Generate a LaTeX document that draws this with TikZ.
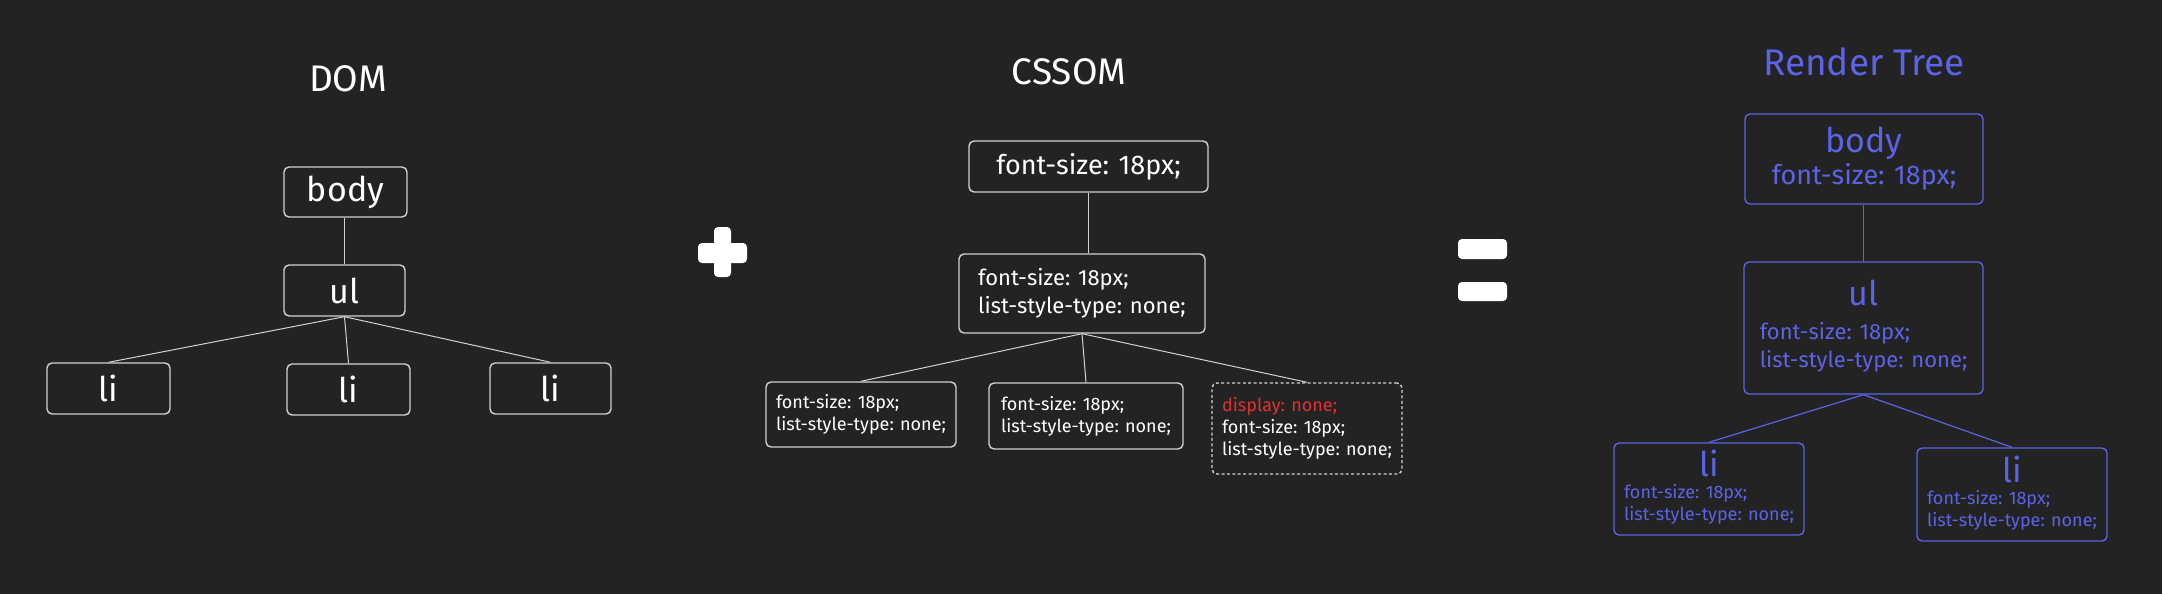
\documentclass[tikz,border=0pt]{standalone}
\usepackage{fontspec}
\setmainfont{Fira Sans}
\usetikzlibrary{positioning}
\definecolor{canvas}{HTML}{232323}
\definecolor{boxline}{HTML}{D2D2D2}
\definecolor{renderblue}{HTML}{5C63E6}
\definecolor{hidered}{HTML}{E03131}
\tikzset{
  treebox/.style={
    draw = boxline,
    line width = 0.7pt,
    rounded corners = 2.5pt,
    text = white,
    inner sep = 2pt,
    align = center
  },
  hiddenbox/.style={
    treebox,
    dash pattern = on 1.5pt off 1.2pt
  },
  renderbox/.style={
    treebox,
    draw = renderblue,
    text = renderblue
  },
  treeedge/.style={
    draw = boxline,
    line width = 0.5pt
  },
  renderedge/.style={
    draw = renderblue,
    line width = 0.6pt
  },
  heading/.style={
    text = white,
    font = \fontsize{18.5}{22}\selectfont
  },
  tagname/.style={
    font = \fontsize{17}{20}\selectfont
  },
  rulesmall/.style={
    font = \fontsize{9}{11}\selectfont
  },
  rulemid/.style={
    font = \fontsize{11}{14}\selectfont
  },
  opsign/.style={
    fill = white,
    rounded corners = 2pt
  }
}
\newcommand{\tagfont}{\fontsize{17}{20}\selectfont}

\begin{document}
\begin{tikzpicture}[x=0.5pt, y=-0.5pt]
    \coordinate (bordernear) at (0, 0);
    \coordinate (borderfar) at (2162, 594);
    \fill[canvas] (bordernear) rectangle (borderfar);
    \useasboundingbox (bordernear) rectangle (borderfar);

    % DOM
    \node (domtitle) at (348, 79)[heading]{DOM};
    \node (dombody) at (345.5, 192)[treebox, tagname, minimum width=61.5pt, minimum height=25pt]{body};
    \node (domul) at (344.5, 290.5)[treebox, tagname, minimum width=60.5pt, minimum height=25.5pt]{ul};
    \node (domlia) at (108.5, 388.5)[treebox, tagname, minimum width=61.5pt, minimum height=25.5pt]{li};
    \node (domlib) at (348.5, 389.5)[treebox, tagname, minimum width=61.5pt, minimum height=25.5pt]{li};
    \node (domlic) at (550.5, 388.5)[treebox, tagname, minimum width=60.5pt, minimum height=25.5pt]{li};
    \draw[treeedge] (domul.north) -- (domul.north |- dombody.south);
    \draw[treeedge] (domul.south) -- (domlia.north);
    \draw[treeedge] (domul.south) -- (domlib.north);
    \draw[treeedge] (domul.south) -- (domlic.north);

    % plus and equals
    \fill[opsign] (714, 227) rectangle (731, 277);
    \fill[opsign] (698, 243) rectangle (747, 263);
    \fill[opsign] (1458, 239) rectangle (1507, 259);
    \fill[opsign] (1458, 282) rectangle (1507, 301);

    % CSSOM
    \node (csstitle) at (1069, 72)[heading]{CSSOM};
    \node (csstop) at (1088.5, 166.5)[treebox, font=\fontsize{13.5}{16}\selectfont, minimum width=119.5pt, minimum height=25.5pt]{font-size: 18px;};
    \node (cssmid) at (1082, 293.5)[treebox, rulemid, align=left, minimum width=123pt, minimum height=39.5pt]{font-size: 18px;\\list-style-type: none;};
    \node (csslia) at (861, 414.5)[treebox, rulesmall, align=left, minimum width=95pt, minimum height=32.5pt]{font-size: 18px;\\list-style-type: none;};
    \node (csslib) at (1086, 416)[treebox, rulesmall, align=left, minimum width=97pt, minimum height=33pt]{font-size: 18px;\\list-style-type: none;};
    \node (csslic) at (1307, 428.5)[hiddenbox, rulesmall, align=left, minimum width=95pt, minimum height=45.5pt]{\textcolor{hidered}{display: none;}\\font-size: 18px;\\list-style-type: none;};
    \draw[treeedge] (csstop.south) -- (csstop.south |- cssmid.north);
    \draw[treeedge] (cssmid.south) -- (csslia.north);
    \draw[treeedge] (cssmid.south) -- (csslib.north);
    \draw[treeedge] (cssmid.south) -- (csslic.north);

    % Render Tree
    \node (rndtitle) at (1864, 62)[heading, text=renderblue]{Render Tree};
    \node (rndbody) at (1864, 159)[renderbox, font=\fontsize{13.5}{16}\selectfont, minimum width=119pt, minimum height=45pt]{{\tagfont body}\\font-size: 18px;};
    \node (rndul) at (1863.5, 328)[renderbox, rulemid, minimum width=119.5pt, minimum height=66pt]{\begin{tabular}{@{}l@{}}\multicolumn{1}{@{}c@{}}{\tagfont ul}\\[3pt]font-size: 18px;\\list-style-type: none;\end{tabular}};
    \node (rndlia) at (1709, 489)[renderbox, rulesmall, minimum width=95pt, minimum height=46pt]{\begin{tabular}{@{}l@{}}\multicolumn{1}{@{}c@{}}{\tagfont li}\\font-size: 18px;\\list-style-type: none;\end{tabular}};
    \node (rndlib) at (2012, 494.5)[renderbox, rulesmall, minimum width=95pt, minimum height=46.5pt]{\begin{tabular}{@{}l@{}}\multicolumn{1}{@{}c@{}}{\tagfont li}\\font-size: 18px;\\list-style-type: none;\end{tabular}};
    \draw[renderedge] (rndul.north) -- (rndul.north |- rndbody.south);
    \draw[renderedge] (rndul.south) -- (rndlia.north);
    \draw[renderedge] (rndul.south) -- (rndlib.north);

  \end{tikzpicture}
\end{document}
